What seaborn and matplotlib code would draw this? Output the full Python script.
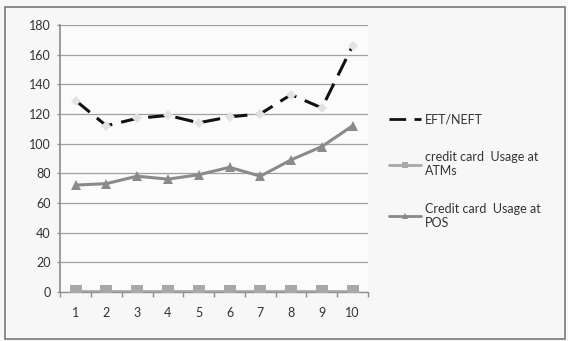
import matplotlib
matplotlib.use("Agg")
import matplotlib.pyplot as plt
import seaborn as sns
import pandas as pd

months = [1, 2, 3, 4, 5, 6, 7, 8, 9, 10]
eft_neft = [129, 112, 117, 119, 114, 118, 120, 133, 124, 166]
atm_usage = [0.8, 0.8, 0.8, 0.8, 0.8, 0.8, 0.8, 0.8, 0.8, 0.8]
pos_usage = [72, 73, 78, 76, 79, 84, 78, 89, 98, 112]
series_names = ["EFT/NEFT", "credit card  Usage at\nATMs", "Credit card  Usage at\nPOS"]
y_ticks = [0, 20, 40, 60, 80, 100, 120, 140, 160, 180]

df = pd.DataFrame({
    "month": months * 3,
    "value": eft_neft + atm_usage + pos_usage,
    "series": [series_names[0]] * 10 + [series_names[1]] * 10 + [series_names[2]] * 10,
})

sns.set_theme(style="white")
plt.rcParams["font.family"] = ["Lato", "DejaVu Sans"]

fig = plt.figure(figsize=(5.68, 3.41), dpi=100, facecolor="#f7f7f7")
ax = fig.add_axes([0.106, 0.144, 0.542, 0.783])
ax.set_facecolor("#fbfbfb")

colors = ["#111111", "#a8a8a8", "#8a8a8a"]
palette = dict(zip(series_names, colors))
markers = dict(zip(series_names, ["D", "s", "^"]))
sns.lineplot(data=df, x="month", y="value", hue="series", style="series",
             palette=palette, markers=markers, dashes=False, ax=ax,
             linewidth=2.2, markersize=7, markeredgewidth=0, legend=False)

for line in ax.get_lines():
    c = matplotlib.colors.to_hex(line.get_color())
    line.set_zorder(4)
    if c == "#111111":
        line.set_dashes([6, 3])
        line.set_markerfacecolor("#e2e2e2")
        line.set_markersize(5)
    elif c == "#a8a8a8":
        line.set_markersize(8)
        line.set_linewidth(2.0)
        line.set_linestyle("-")
        line.set_zorder(5)

ax.set_xlim(0.5, 10.5)
ax.set_ylim(0, 180)
ax.set_yticks(y_ticks)
ax.set_xticks(months)
ax.yaxis.grid(True, color="#a0a0a0", linewidth=0.9)
ax.set_axisbelow(True)
ax.set_xlabel("")
ax.set_ylabel("")
for side in ["top", "right", "bottom"]:
    ax.spines[side].set_visible(False)
ax.spines["left"].set_color("#909090")
ax.axhline(0, color="#909090", linewidth=1.0, zorder=2, clip_on=False)

# category boundary ticks below the horizontal axis
boundaries = [m - 0.5 for m in months] + [months[-1] + 0.5]
ax.vlines(boundaries, -0.018, 0, transform=ax.get_xaxis_transform(),
          colors="#909090", linewidth=1.0, clip_on=False, zorder=2)
# value ticks to the left of the vertical axis
ax.hlines(y_ticks, -0.012, 0, transform=ax.get_yaxis_transform(),
          colors="#909090", linewidth=1.0, clip_on=False, zorder=2)

ax.tick_params(axis="both", which="major", length=0, labelsize=9, colors="#333333", pad=7)
ax.tick_params(axis="x", which="major", pad=11)

handles = [
    plt.Line2D([], [], color="#111111", linewidth=2, dashes=[6, 3]),
    plt.Line2D([], [], color="#a8a8a8", linewidth=2, marker="s", markersize=5, markeredgewidth=0),
    plt.Line2D([], [], color="#8a8a8a", linewidth=2, marker="^", markersize=5, markeredgewidth=0),
]
fig.legend(handles, series_names, loc="upper left", bbox_to_anchor=(0.665, 0.70),
           frameon=False, fontsize=9, handlelength=2.6, handletextpad=0.3,
           labelspacing=2.05, labelcolor="#333333")

fig.add_artist(plt.Rectangle((0.009, 0.005), 0.985, 0.975, transform=fig.transFigure,
                             fill=False, edgecolor="#7a7a7a", linewidth=1.2))

fig.savefig("out.png", dpi=100, facecolor=fig.get_facecolor())
